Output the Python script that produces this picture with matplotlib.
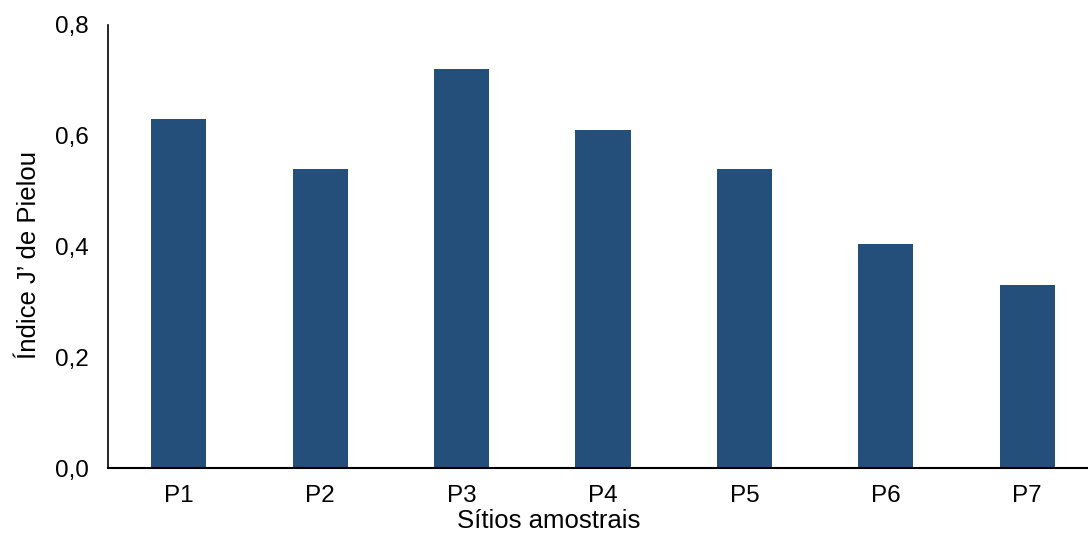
import matplotlib
matplotlib.use("Agg")
import matplotlib.pyplot as plt
import numpy as np

categories = ["P1", "P2", "P3", "P4", "P5", "P6", "P7"]
values = [0.63, 0.54, 0.72, 0.61, 0.54, 0.405, 0.33]
yticks = [0.0, 0.2, 0.4, 0.6, 0.8]
ytick_labels = ["0,0", "0,2", "0,4", "0,6", "0,8"]

plt.rcParams['font.family'] = ['Liberation Sans', 'DejaVu Sans']

fig = plt.figure(figsize=(10.88, 5.36), dpi=100)
ax = fig.add_axes([108/1088, 1-468/536, 1-108/1088, (468-25)/536])
x = np.arange(len(categories))
ax.bar(x, values, width=0.39, color="#244f7b")
ax.set_xlim(-0.5, 6.43)
ax.set_ylim(0, 0.8)
ax.set_xticks(x)
ax.set_xticklabels(categories, fontsize=17.5)
ax.set_yticks(yticks)
ax.set_yticklabels(ytick_labels, fontsize=17.5)
ax.tick_params(axis='y', length=0, pad=14)
ax.tick_params(axis='x', length=0, pad=12)
for s in ["top", "right"]:
    ax.spines[s].set_visible(False)
ax.spines["left"].set_linewidth(1.2)
ax.spines["bottom"].set_linewidth(1.5)
ax.set_xlabel("Sítios amostrais", fontsize=18.5, labelpad=2)
ax.set_ylabel("Índice J’ de Pielou", fontsize=18.5, labelpad=10)
ax.xaxis.label.set_x(0.45)
ax.yaxis.label.set_y(0.48)
fig.savefig("out.png", dpi=100)
